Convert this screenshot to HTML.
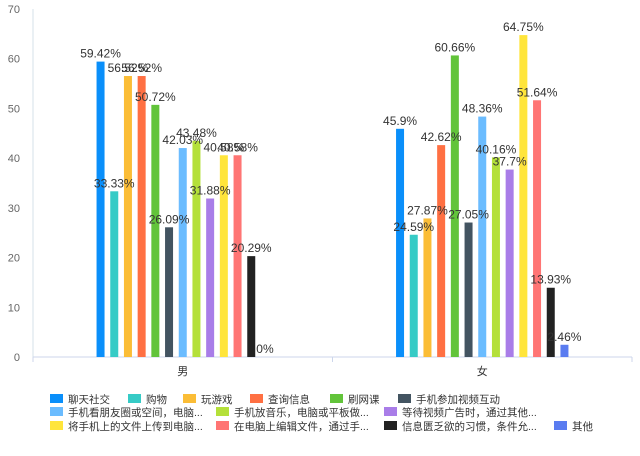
<!DOCTYPE html>
<html><head><meta charset="utf-8"><style>
body{margin:0;background:#fff;}
svg text{font-family:"Liberation Sans","Noto Sans CJK SC",sans-serif;}
</style></head><body>
<svg id="chart" width="640" height="451" xmlns="http://www.w3.org/2000/svg">
<g id="axes"></g><g id="bars"></g><g id="labels"></g><g id="legend"></g>
</svg>
<script>
const categories = ["男","女"];
const seriesNames = ["聊天社交","购物","玩游戏","查询信息","刷网课","手机参加视频互动","手机看朋友圈或空间，电脑...","手机放音乐，电脑或平板做...","等待视频广告时，通过其他...","将手机上的文件上传到电脑...","在电脑上编辑文件，通过手...","信息匮乏欲的习惯，条件允...","其他"];
const maleValues = [59.42,33.33,56.52,56.52,50.72,26.09,42.03,43.48,31.88,40.58,40.58,20.29,0];
const femaleValues = [45.9,24.59,27.87,42.62,60.66,27.05,48.36,40.16,37.7,64.75,51.64,13.93,2.46];
const yTicks = [0,10,20,30,40,50,60,70];
const colors = ["#0a8ffa","#36cbc6","#fbbd36","#ff7043","#62c43a","#435461","#6bbcff","#b4e03a","#a97de8","#ffe53b","#ff7574","#222222","#5a7cf0"];
const NS="http://www.w3.org/2000/svg";
const X0=33,X1=632,Y0=357,Y1=9,YMAX=70;
const y=v=>Y0-(v/YMAX)*(Y0-Y1);
const catW=(X1-X0)/categories.length;
const cx=i=>X0+catW*(i+0.5);
const BW=8,STEP=13.7;
function mk(tag,attrs,parent,text){const e=document.createElementNS(NS,tag);for(const k in attrs)e.setAttribute(k,attrs[k]);if(text!==undefined)e.textContent=text;parent.appendChild(e);return e;}
const axes=document.getElementById('axes');
let l=mk('line',{x1:X0,y1:Y1,x2:X0,y2:Y0+5,stroke:'#d5e0ea'},axes);


l=mk('line',{x1:X0,y1:Y0,x2:X1,y2:Y0,stroke:'#ccd6eb'},axes);


yTicks.forEach(t=>{const e=mk('text',{x:20,y:y(t)+4,'text-anchor':'end','font-size':11,fill:'#666'},axes,String(t));

});
for(let i=0;i<=categories.length;i++){const e=mk('line',{x1:X0+catW*i,y1:Y0,x2:X0+catW*i,y2:Y0+5,stroke:'#ccd6eb'},axes);

}
categories.forEach((c,i)=>{const e=mk('text',{x:cx(i),y:375,'text-anchor':'middle','font-size':11,fill:'#333'},axes,c);

});
const bars=document.getElementById('bars'),labels=document.getElementById('labels');
[maleValues,femaleValues].forEach((vals,ci)=>{
  const start=cx(ci)-STEP*(vals.length-1)/2;
  vals.forEach((v,si)=>{
    const bx=start+STEP*si-BW/2;
    const r=mk('rect',{x:bx,y:y(v),width:BW,height:Y0-y(v),fill:colors[si]},bars);
    
    
    const t=mk('text',{x:bx+BW/2,y:y(v)-4,'text-anchor':'middle','font-size':12,fill:'#333'},labels,v+'%');
    
    
  });
});
const legendPos=[[50,399],[128,399],[183,399],[250,399],[330,399],[398,399],[50,412],[216,412],[384,412],[50,426],[216,426],[384,426],[554,426]];
const legend=document.getElementById('legend');
seriesNames.forEach((n,i)=>{
  const g=mk('g',{},legend);
  
  
  const [lx,ly]=legendPos[i];
  mk('rect',{x:lx,y:ly-5,width:13,height:9,fill:colors[i]},g);
  mk('text',{x:lx+18,y:ly+4,'font-size':10.5,fill:'#333'},g,n);
});
</script>
</body></html>
